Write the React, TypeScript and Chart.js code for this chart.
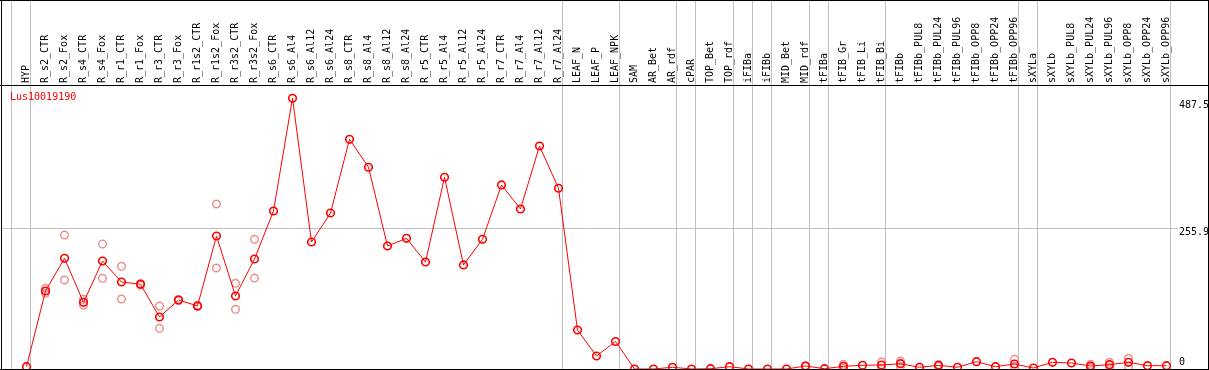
import React, { useEffect, useRef } from "react";
import { Chart, registerables } from "chart.js";

Chart.register(...registerables);

const categories = [
  "HYP", "R_s2_CTR", "R_s2_Fox", "R_s4_CTR", "R_s4_Fox", "R_r1_CTR", "R_r1_Fox", "R_r3_CTR", "R_r3_Fox",
  "R_r1s2_CTR", "R_r1s2_Fox", "R_r3s2_CTR", "R_r3s2_Fox", "R_s6_CTR", "R_s6_Al4", "R_s6_Al12", "R_s6_Al24",
  "R_s8_CTR", "R_s8_Al4", "R_s8_Al12", "R_s8_Al24", "R_r5_CTR", "R_r5_Al4", "R_r5_Al12", "R_r5_Al24",
  "R_r7_CTR", "R_r7_Al4", "R_r7_Al12", "R_r7_Al24", "LEAF_N", "LEAF_P", "LEAF_NPK", "SAM", "AR_Bet", "AR_rdf",
  "cPAR", "TOP_Bet", "TOP_rdf", "iFIBa", "iFIBb", "MID_Bet", "MID_rdf", "tFIBa", "tFIB_Gr", "tFIB_Li", "tFIB_Bi",
  "tFIBb", "tFIBb_PUL8", "tFIBb_PUL24", "tFIBb_PUL96", "tFIBb_OPP8", "tFIBb_OPP24", "tFIBb_OPP96", "sXYLa",
  "sXYLb", "sXYLb_PUL8", "sXYLb_PUL24", "sXYLb_PUL96", "sXYLb_OPP8", "sXYLb_OPP24", "sXYLb_OPP96",
];

const meanValues = [
  4.2, 141.9, 201.3, 121.3, 196.4, 158.2, 154.1, 94.6, 125.5, 114.6, 241.9, 132.8, 200.1,
  287.4, 492.4, 231.0, 283.7, 417.8, 366.9, 223.7, 237.7, 194.6, 348.7, 189.2, 235.9,
  334.7, 291.0, 405.6, 328.7, 70.9, 23.6, 50.0, 0, 0, 3.1, 0, 0.5, 4.2, 0, 0, 0, 5.5, 0.5,
  4.9, 6.7, 7.3, 9.6, 3.1, 6.7, 3.1, 13.3, 4.2, 9.1, 1.8, 12.2, 10.9, 5.5, 7.8, 12.2, 6.0, 6.0,
];

const replicateHigh = [
  null, 146.8, 243.7, 126.8, 227.4, 186.8, 155.5, 114.6, 126.5, 115.8, 300.1, 155.9, 235.9,
  null, null, null, null, null, null, null, null, null, null, null, null, null, null, null, null,
  null, null, null, null, null, null, null, null, null, null, null, null, 6.0, null,
  8.5, null, 12.7, 14.5, null, 8.0, null, null, null, 17.6, null, null, null, 8.5, 12.2, 19.5, null, null,
];

const replicateLow = [
  null, 137.7, 161.9, 115.9, 165.0, 127.3, 152.7, 74.0, 124.5, 113.4, 183.7, 108.6, 165.5,
  null, null, null, null, null, null, null, null, null, null, null, null, null, null, null, null,
  null, null, null, null, null, null, null, null, null, null, null, null, 5.0, null,
  1.5, null, 2.0, 4.7, null, 5.4, null, null, null, 3.6, null, null, null, 2.5, 3.4, 4.2, null, null,
];

const yTickValues = [0, 255.9, 487.5];
const yTickLabels = ["0", "255.9", "487.5"];
const geneLabel = "Lus10019190";
// index of the last category of each group (-1 = before the first)
const groupEnds = [-1, 0, 28, 31, 34, 35, 37, 38, 39, 41, 42, 45, 52, 53, 60];

const FONT = '10px "DejaVu Sans Mono", monospace';

const decorPlugin = {
  id: "decor",
  beforeDatasetsDraw(chart: any) {
    const ctx = chart.ctx;
    const xs = chart.scales.x;
    const ys = chart.scales.y;
    const x0 = xs.getPixelForValue(0);
    const step = xs.getPixelForValue(1) - x0;
    ctx.save();
    ctx.strokeStyle = "#c0c0c0";
    ctx.lineWidth = 1;
    ctx.beginPath();
    for (const i of groupEnds) {
      const px = Math.floor(x0 + i * step + 4) + 0.5;
      ctx.moveTo(px, 0);
      ctx.lineTo(px, 370);
    }
    const gy = Math.floor(ys.getPixelForValue(yTickValues[1])) + 0.5;
    ctx.moveTo(1, gy);
    ctx.lineTo(1178, gy);
    ctx.stroke();
    ctx.restore();
  },
  afterDatasetsDraw(chart: any) {
    const ctx = chart.ctx;
    const xs = chart.scales.x;
    const ys = chart.scales.y;
    ctx.save();
    // frame
    ctx.fillStyle = "#000";
    ctx.fillRect(0, 0, 1209, 1);
    ctx.fillRect(0, 85, 1209, 1);
    ctx.fillRect(0, 369, 1209, 1);
    ctx.fillRect(1, 0, 1, 370);
    ctx.fillRect(1208, 0, 1, 370);
    // category labels
    ctx.font = FONT;
    ctx.fillStyle = "#000";
    ctx.textAlign = "left";
    ctx.textBaseline = "middle";
    categories.forEach((lab, i) => {
      const px = xs.getPixelForValue(i);
      ctx.save();
      ctx.translate(px, 83);
      ctx.rotate(-Math.PI / 2);
      ctx.fillText(lab, 0, 0);
      ctx.restore();
    });
    // y labels
    yTickValues.forEach((v, i) => {
      const py = Math.min(ys.getPixelForValue(v) + 4, 362);
      ctx.fillText(yTickLabels[i], 1179, py);
    });
    // gene label
    ctx.fillStyle = "#ff0000";
    ctx.fillText(geneLabel, 10, 97);
    ctx.restore();
  },
};

export default function App() {
  const ref = useRef<HTMLCanvasElement | null>(null);
  useEffect(() => {
    document.body.style.margin = "0";
    const chart = new Chart(ref.current!, {
      type: "line",
      data: {
        labels: categories,
        datasets: [
          {
            data: meanValues,
            borderColor: "#ff0000",
            borderWidth: 1,
            pointStyle: "circle",
            pointRadius: 3.8,
            pointBorderWidth: 1.6,
            pointBorderColor: "#ff0000",
            pointBackgroundColor: "rgba(0,0,0,0)",
            tension: 0,
          },
          {
            data: replicateHigh as any,
            showLine: false,
            pointStyle: "circle",
            pointRadius: 3.8,
            pointBorderWidth: 1.4,
            pointBorderColor: "rgb(238,140,140)",
            pointBackgroundColor: "rgba(0,0,0,0)",
          },
          {
            data: replicateLow as any,
            showLine: false,
            pointStyle: "circle",
            pointRadius: 3.8,
            pointBorderWidth: 1.4,
            pointBorderColor: "rgb(238,140,140)",
            pointBackgroundColor: "rgba(0,0,0,0)",
          },
        ],
      },
      options: {
        responsive: false,
        animation: false,
        devicePixelRatio: 1,
        layout: { autoPadding: false, padding: { left: 17, right: 33, top: 86, bottom: 0 } },
        plugins: { legend: { display: false }, tooltip: { enabled: false } },
        scales: {
          x: { type: "category", display: false, offset: true },
          y: { display: false, min: -1.82, max: 514.7 },
        },
      },
      plugins: [decorPlugin],
    });
    return () => chart.destroy();
  }, []);
  return <canvas ref={ref} width={1209} height={370} style={{ display: "block" }} />;
}
